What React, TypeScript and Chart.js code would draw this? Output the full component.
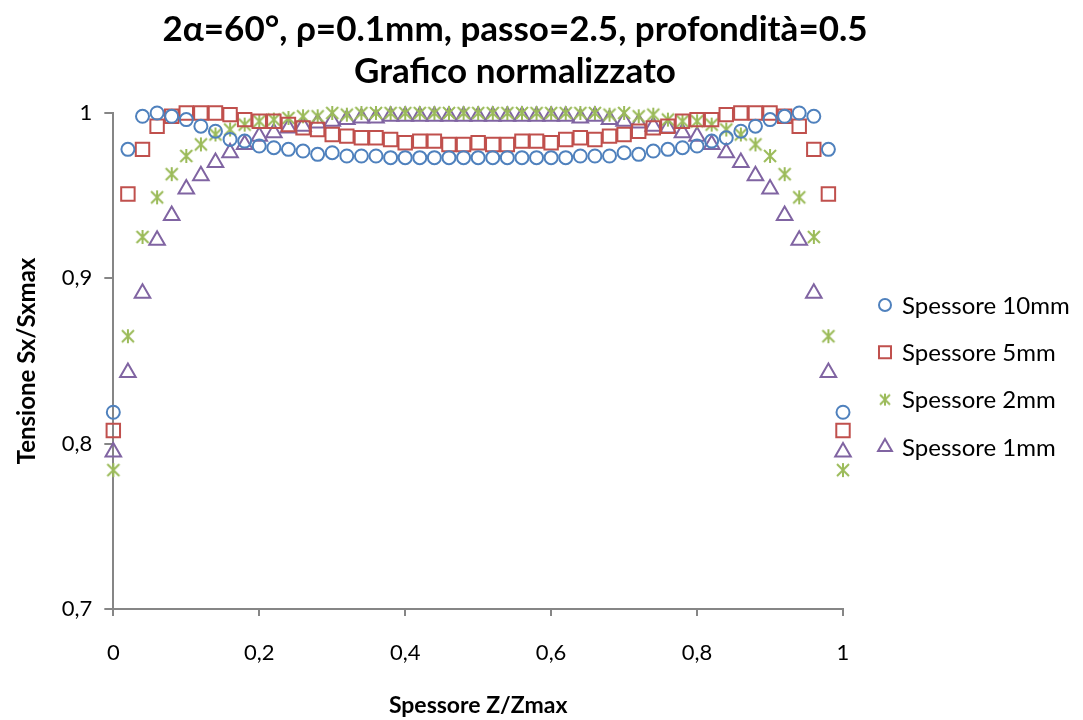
import { useEffect, useRef } from 'react';
import { Chart, registerables } from 'chart.js';
import { drawPoint } from 'chart.js/helpers';

Chart.register(...registerables);

const xs = [
  0, 0.02, 0.04, 0.06, 0.08, 0.1, 0.12, 0.14, 0.16, 0.18, 0.2, 0.22, 0.24, 0.26, 0.28, 0.3, 0.32,
  0.34, 0.36, 0.38, 0.4, 0.42, 0.44, 0.46, 0.48, 0.5, 0.52, 0.54, 0.56, 0.58, 0.6, 0.62, 0.64,
  0.66, 0.68, 0.7, 0.72, 0.74, 0.76, 0.78, 0.8, 0.82, 0.84, 0.86, 0.88, 0.9, 0.92, 0.94, 0.96,
  0.98, 1,
];

const spessore10 = [
  0.819, 0.978, 0.998, 1.0, 0.998, 0.996, 0.992, 0.989, 0.984, 0.983, 0.98, 0.979, 0.978, 0.977,
  0.975, 0.976, 0.974, 0.974, 0.974, 0.973, 0.973, 0.973, 0.973, 0.973, 0.973, 0.973, 0.973,
  0.973, 0.973, 0.973, 0.973, 0.973, 0.974, 0.974, 0.974, 0.976, 0.975, 0.977, 0.978, 0.979,
  0.98, 0.983, 0.985, 0.989, 0.992, 0.996, 0.998, 1.0, 0.998, 0.978, 0.819,
];

const spessore5 = [
  0.808, 0.951, 0.978, 0.992, 0.998, 1.0, 1.0, 1.0, 0.999, 0.996, 0.995, 0.995, 0.993, 0.991,
  0.99, 0.987, 0.986, 0.985, 0.985, 0.984, 0.982, 0.983, 0.983, 0.981, 0.981, 0.982, 0.981,
  0.981, 0.983, 0.983, 0.982, 0.984, 0.985, 0.984, 0.986, 0.987, 0.989, 0.991, 0.992, 0.995,
  0.996, 0.996, 0.999, 1.0, 1.0, 1.0, 0.998, 0.992, 0.978, 0.951, 0.808,
];

const spessore2 = [
  0.784, 0.865, 0.925, 0.949, 0.963, 0.974, 0.981, 0.987, 0.99, 0.993, 0.995, 0.996, 0.997, 0.998,
  0.998, 1.0, 0.999, 1.0, 1.0, 1.0, 1.0, 1.0, 1.0, 1.0, 1.0, 1.0, 1.0, 1.0, 1.0, 1.0, 1.0, 1.0,
  1.0, 1.0, 0.999, 1.0, 0.998, 0.999, 0.996, 0.995, 0.995, 0.993, 0.99, 0.987, 0.981, 0.974,
  0.963, 0.949, 0.925, 0.865, 0.784,
];

const spessore1 = [
  0.795, 0.843, 0.891, 0.923, 0.938, 0.954, 0.962, 0.97, 0.976, 0.981, 0.986, 0.988, 0.991, 0.992,
  0.994, 0.995, 0.996, 0.997, 0.997, 0.998, 0.998, 0.998, 0.998, 0.998, 0.998, 0.998, 0.998,
  0.998, 0.998, 0.998, 0.998, 0.998, 0.997, 0.998, 0.996, 0.995, 0.994, 0.992, 0.991, 0.988,
  0.986, 0.981, 0.976, 0.97, 0.962, 0.954, 0.938, 0.923, 0.891, 0.843, 0.795,
];

const seriesNames = ['Spessore 10mm', 'Spessore 5mm', 'Spessore 2mm', 'Spessore 1mm'];
const titleLines = ['2α=60°, ρ=0.1mm, passo=2.5, profondità=0.5', 'Grafico normalizzato'];
const xAxisTitle = 'Spessore Z/Zmax';
const yAxisTitle = 'Tensione Sx/Sxmax';

const BLUE = '#4F81BD';
const RED = '#C0504D';
const GREEN = '#9BBB59';
const PURPLE = '#8064A2';
const AXIS = '#868686';
const FONT = 'Lato, "Open Sans", sans-serif';

function makeStar(color: string, size: number) {
  const c = document.createElement('canvas');
  c.width = size;
  c.height = size;
  const ctx = c.getContext('2d')!;
  ctx.strokeStyle = color;
  ctx.lineWidth = 2;
  const m = 2;
  ctx.beginPath();
  ctx.moveTo(m, m);
  ctx.lineTo(size - m, size - m);
  ctx.moveTo(size - m, m);
  ctx.lineTo(m, size - m);
  ctx.moveTo(size / 2, m - 1);
  ctx.lineTo(size / 2, size - m + 1);
  ctx.stroke();
  return c;
}

function fmt(v: number) {
  if (Math.abs(v) < 1e-9) return '0';
  if (Math.abs(v - 1) < 1e-9) return '1';
  return v.toFixed(1).replace('.', ',');
}

// Legend drawn to the right of the plot area, using each dataset's own marker style
const sideLegend = {
  id: 'sideLegend',
  afterDraw(chart: any, _args: any, opts: any) {
    const { ctx, chartArea } = chart;
    ctx.save();
    ctx.font = `${opts.fontSize}px ${FONT}`;
    ctx.textBaseline = 'middle';
    ctx.textAlign = 'left';
    chart.data.datasets.forEach((ds: any, i: number) => {
      const y = chartArea.top + opts.offsetY + i * opts.rowGap;
      const mx = chartArea.right + opts.markerX;
      ctx.strokeStyle = ds.borderColor;
      ctx.fillStyle = 'rgba(0,0,0,0)';
      ctx.lineWidth = 2;
      const style = ds.legendStyle ?? ds.pointStyle;
      drawPoint(ctx, { pointStyle: style, radius: ds.legendRadius, rotation: 0, borderWidth: 2 } as any, mx, y);
      ctx.fillStyle = '#000';
      ctx.fillText(ds.label, chartArea.right + opts.textX, y + 1);
    });
    ctx.restore();
  },
};

export default function App() {
  const ref = useRef<HTMLCanvasElement>(null);

  useEffect(() => {
    const star = makeStar(GREEN, 16);
    const legendStar = makeStar(GREEN, 14);
    const pts = (arr: number[]) => arr.map((y, i) => ({ x: xs[i], y }));
    const common = {
      yAxisID: 'y',
      xAxisID: 'x',
      backgroundColor: 'rgba(0,0,0,0)',
      pointBorderWidth: 2,
      clip: false,
    };
    const chart = new Chart(ref.current!, {
      type: 'scatter',
      plugins: [sideLegend],
      data: {
        datasets: [
          {
            ...common,
            label: seriesNames[0],
            data: pts(spessore10),
            pointStyle: 'circle',
            pointRadius: 6.5,
            legendRadius: 6,
            borderColor: BLUE,
          },
          {
            ...common,
            label: seriesNames[1],
            data: pts(spessore5),
            pointStyle: 'rect',
            pointRadius: 9.5,
            legendRadius: 8.5,
            borderColor: RED,
          },
          {
            ...common,
            label: seriesNames[2],
            data: pts(spessore2),
            pointStyle: star as any,
            legendStyle: legendStar,
            pointRadius: 8,
            legendRadius: 7,
            borderColor: GREEN,
          },
          {
            ...common,
            label: seriesNames[3],
            data: pts(spessore1),
            pointStyle: 'triangle',
            pointRadius: 9,
            legendRadius: 8,
            borderColor: PURPLE,
          },
        ] as any,
      },
      options: {
        animation: false,
        responsive: false,
        events: [],
        layout: { padding: { top: 9, right: 66, left: 13, bottom: 1 } },
        plugins: {
          title: {
            display: true,
            text: titleLines,
            color: '#000',
            font: { family: FONT, size: 35, weight: 'bold', lineHeight: 1.2 },
            padding: { top: 0, bottom: 20 },
          },
          legend: { display: false },
          tooltip: { enabled: false },
          sideLegend: { fontSize: 24, offsetY: 192, rowGap: 47.3, markerX: 42, textX: 59 },
        },
        scales: {
          x: {
            type: 'linear',
            min: 0,
            max: 1,
            ticks: {
              stepSize: 0.2,
              callback: (v: any) => fmt(Number(v)),
              color: '#000',
              font: { family: FONT, size: 22 },
              padding: 24,
              maxRotation: 0,
            },
            grid: { drawOnChartArea: false, drawTicks: true, tickLength: 7, color: AXIS, lineWidth: 2 },
            border: { color: AXIS, width: 2 },
            title: {
              display: true,
              text: xAxisTitle,
              color: '#000',
              font: { family: FONT, size: 23, weight: 'bold' },
              padding: { top: 1, bottom: 0 },
            },
          },
          y: {
            type: 'linear',
            position: 'left',
            min: 0.7,
            max: 1,
            ticks: {
              stepSize: 0.1,
              callback: (v: any) => fmt(Number(v)),
              color: '#000',
              font: { family: FONT, size: 22 },
              padding: 12,
            },
            grid: { drawOnChartArea: false, drawTicks: true, tickLength: 9, color: AXIS, lineWidth: 2 },
            border: { color: AXIS, width: 2 },
            title: {
              display: true,
              text: yAxisTitle,
              color: '#000',
              font: { family: FONT, size: 24, weight: 'bold' },
              padding: { top: 0, bottom: 8 },
            },
          },
          legendSpace: {
            type: 'linear',
            position: 'right',
            display: true,
            min: 0,
            max: 1,
            ticks: { display: false },
            grid: { display: false, drawTicks: false },
            border: { display: false },
            title: { display: false },
            afterFit: (s: any) => {
              s.width = 174;
            },
          },
        },
      } as any,
    });
    return () => chart.destroy();
  }, []);

  return (
    <div style={{ position: 'absolute', left: 0, top: 0, width: 1083, height: 720, background: '#fff' }}>
      <canvas ref={ref} width={1083} height={720} style={{ display: 'block' }} />
    </div>
  );
}
